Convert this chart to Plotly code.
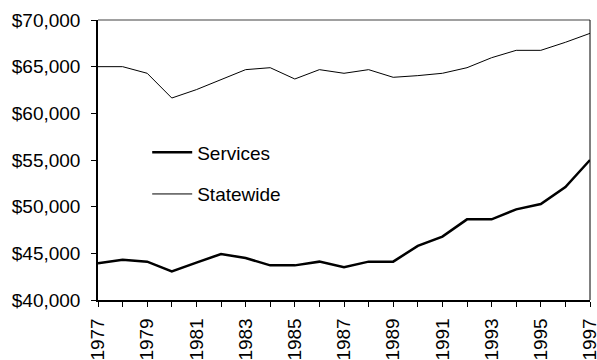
import plotly.graph_objects as go

years = list(range(1977, 1998))
services = [43930, 44320, 44110, 43070, 44000, 44930, 44500, 43710, 43710, 44110,
            43500, 44110, 44110, 45800, 46790, 48640, 48640, 49710, 50290, 52110, 55000]
statewide = [65000, 65000, 64290, 61640, 62540, 63570, 64680, 64890, 63680, 64680,
             64290, 64680, 63860, 64040, 64290, 64890, 65960, 66750, 66750, 67610, 68570]
x_ticktext = [str(y) if (y - 1977) % 2 == 0 else "" for y in years]

fig = go.Figure()
fig.add_trace(go.Scatter(x=years, y=services, mode="lines", name="Services",
                         line=dict(color="black", width=2.5), legendgroup="a"))
fig.add_trace(go.Scatter(x=years, y=statewide, mode="lines", name="Statewide",
                         line=dict(color="black", width=1), legendgroup="b"))

font_family = "Liberation Sans, Arial, sans-serif"
fig.update_layout(
    width=597, height=360,
    margin=dict(l=98, r=7, t=20, b=60, autoexpand=False),
    paper_bgcolor="white", plot_bgcolor="white",
    font=dict(family=font_family, size=19, color="black"),
    showlegend=True,
    legend=dict(x=0.1, y=0.595, xanchor="left", yanchor="top",
                bgcolor="rgba(0,0,0,0)", font=dict(size=19, color="black"),
                tracegroupgap=14, itemwidth=40),
    xaxis=dict(range=[1977, 1997], tickvals=years, ticktext=x_ticktext,
               tickangle=-90, ticks="outside", ticklen=5, tickcolor="black",
               showline=True, linecolor="black", linewidth=1.5,
               showgrid=False, zeroline=False, tickfont=dict(size=19),
               ticklabeloverflow="allow", ticklabelstandoff=4, automargin=False),
    yaxis=dict(range=[40000, 70000], dtick=5000, tickformat="$,.0f",
               ticks="outside", ticklen=5, tickcolor="black",
               showline=True, linecolor="black", linewidth=1.5,
               showgrid=False, zeroline=False, tickfont=dict(size=19),
               ticklabeloverflow="allow", ticklabelstandoff=7, automargin=False),
    shapes=[
        dict(type="line", xref="paper", yref="paper", x0=0, x1=1, y0=1, y1=1,
             line=dict(color="#808080", width=1.5)),
        dict(type="line", xref="paper", yref="paper", x0=1, x1=1, y0=0, y1=1,
             line=dict(color="black", width=1)),
    ],
)
fig.write_html("out.html")
